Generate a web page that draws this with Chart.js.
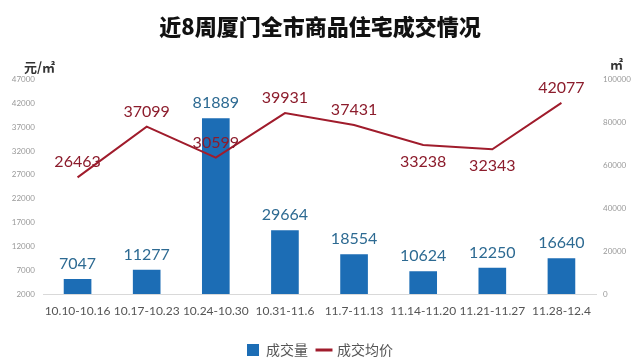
<!DOCTYPE html>
<html>
<head>
<meta charset="utf-8">
<script src="https://cdn.jsdelivr.net/npm/chart.js@4.4.1/dist/chart.umd.min.js"></script>
<style>
  html, body { margin: 0; padding: 0; background: #fff; }
  #wrap { width: 640px; height: 360px; }
</style>
</head>
<body>
<div id="wrap"><canvas id="chart" width="640" height="360"></canvas></div>
<script>
// data
const weeks = ['10.10-10.16', '10.17-10.23', '10.24-10.30', '10.31-11.6', '11.7-11.13', '11.14-11.20', '11.21-11.27', '11.28-12.4'];
const volume = [7047, 11277, 81889, 29664, 18554, 10624, 12250, 16640];   // 成交量, ㎡
const avgPrice = [26463, 37099, 30599, 39931, 37431, 33238, 32343, 42077]; // 成交均价, 元/㎡
const priceBelow = [false, false, false, false, false, true, true, false]; // label under the point

const barBlue = '#1c6db5';
const lineRed = '#a01c2c';
const cjk = '"Noto Sans CJK SC", "Noto Sans", sans-serif';
const num = 'Lato, "Open Sans", sans-serif';

// value labels + axis unit captions
const labelPlugin = {
  id: 'labels',
  afterDatasetsDraw(chart) {
    const ctx = chart.ctx;
    ctx.save();
    ctx.textAlign = 'center';
    ctx.textBaseline = 'middle';
    ctx.font = '16px ' + num;

    chart.getDatasetMeta(0).data.forEach((bar, i) => {
      ctx.fillStyle = '#2d6a92';
      ctx.fillText(volume[i], bar.x, bar.y - 15);
    });
    chart.getDatasetMeta(1).data.forEach((pt, i) => {
      ctx.fillStyle = '#8c1c2c';
      ctx.fillText(avgPrice[i], pt.x, priceBelow[i] ? pt.y + 17 : pt.y - 15);
    });

    const yl = chart.scales.y, yr = chart.scales.y1;
    ctx.fillStyle = '#333';
    ctx.font = 'bold 13px ' + cjk;
    ctx.textAlign = 'left';
    ctx.fillText('元/㎡', 24, yl.top - 12);
    ctx.fillText('㎡', yr.left + 14, yr.top - 15);
    ctx.restore();
  }
};

new Chart(document.getElementById('chart'), {
  type: 'bar',
  data: {
    labels: weeks,
    datasets: [
      {
        label: '成交量',
        data: volume,
        backgroundColor: barBlue,
        yAxisID: 'y1',
        order: 1,
        categoryPercentage: 1,
        barPercentage: 0.4
      },
      {
        type: 'line',
        label: '成交均价',
        data: avgPrice,
        borderColor: lineRed,
        backgroundColor: lineRed,
        borderWidth: 2,
        pointRadius: 0,
        tension: 0,
        yAxisID: 'y',
        order: 0
      }
    ]
  },
  plugins: [labelPlugin],
  options: {
    responsive: false,
    animation: false,
    layout: { padding: { top: 0, left: 0, right: 0, bottom: -7 } },
    plugins: {
      title: {
        display: true,
        text: '近8周厦门全市商品住宅成交情况',
        color: '#111',
        font: { family: cjk, size: 22, weight: '900' },
        padding: { top: 13, bottom: 40 }
      },
      legend: {
        position: 'bottom',
        labels: {
          color: '#555',
          font: { family: cjk, size: 14 },
          usePointStyle: true,
          boxWidth: 12,
          boxHeight: 12,
          padding: 10,
          sort: (a, b) => a.datasetIndex - b.datasetIndex,
          generateLabels(chart) {
            const items = Chart.defaults.plugins.legend.labels.generateLabels(chart);
            items.forEach(it => {
              it.pointStyle = it.datasetIndex === 0 ? 'rect' : 'line';
              it.lineWidth = it.datasetIndex === 0 ? 0 : 3;
              it.strokeStyle = it.datasetIndex === 0 ? barBlue : lineRed;
            });
            return items;
          }
        }
      },
      tooltip: { enabled: false }
    },
    scales: {
      x: {
        grid: { display: false, drawTicks: false },
        border: { display: true, color: '#d9d9d9' },
        ticks: { color: '#555', font: { family: num, size: 12 }, padding: 10, maxRotation: 0, autoSkip: false },
        afterFit(s) { s.height = 39; }
      },
      y: {
        position: 'left',
        min: 2000,
        max: 47000,
        grid: { display: false, drawTicks: false },
        border: { display: false },
        ticks: { stepSize: 5000, color: '#999', font: { family: num, size: 8 }, padding: 8, callback: v => String(v) },
        afterFit(s) { s.width = 43; }
      },
      y1: {
        position: 'right',
        min: 0,
        max: 100000,
        grid: { display: false, drawTicks: false },
        border: { display: false },
        ticks: { stepSize: 20000, color: '#999', font: { family: num, size: 8 }, padding: 7, callback: v => String(v) },
        afterFit(s) { s.width = 44; }
      }
    }
  }
});
</script>
</body>
</html>
